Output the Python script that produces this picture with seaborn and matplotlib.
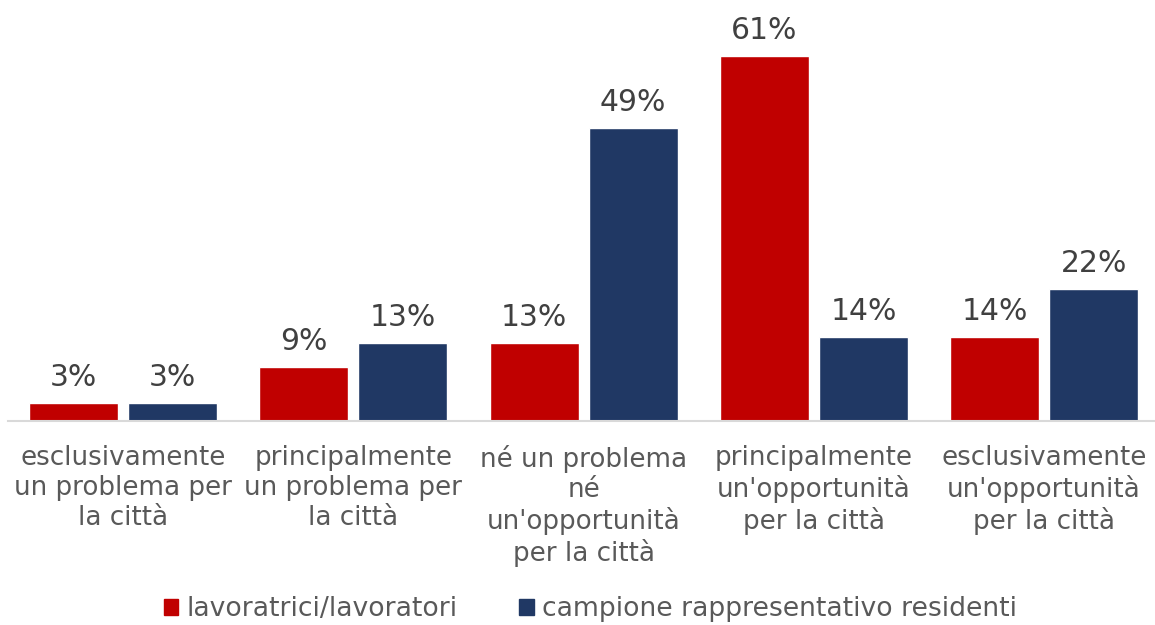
import matplotlib
matplotlib.use("Agg")
import matplotlib.pyplot as plt
import seaborn as sns
import pandas as pd

categories = [
    "esclusivamente\nun problema per\nla città",
    "principalmente\nun problema per\nla città",
    "né un problema\nné\nun'opportunità\nper la città",
    "principalmente\nun'opportunità\nper la città",
    "esclusivamente\nun'opportunità\nper la città",
]
series_names = ["lavoratrici/lavoratori", "campione rappresentativo residenti"]
lavoratori = [3, 9, 13, 61, 14]
residenti = [3, 13, 49, 14, 22]
colors = ["#C00000", "#203864"]

df = pd.DataFrame({
    "categoria": categories * 2,
    "gruppo": [series_names[0]] * len(categories) + [series_names[1]] * len(categories),
    "valore": lavoratori + residenti,
})

sns.set_theme(style="white")
plt.rcParams["font.family"] = ["DejaVu Sans"]

W, H = 1155, 625
fig = plt.figure(figsize=(W / 100, H / 100), dpi=100)
ax = fig.add_axes([8 / W, 204 / H, 1147 / W, 419 / H])

sns.barplot(data=df, x="categoria", y="valore", hue="gruppo",
            palette=colors, width=0.86, gap=0.1, ax=ax,
            saturation=1, legend=False)

ax.set_xlim(-0.5, -0.5 + 1147 / 230.25)
ax.set_ylim(0, 70)
ax.set_xlabel("")
ax.set_ylabel("")
ax.set_yticks([])
for side in ["top", "right", "left"]:
    ax.spines[side].set_visible(False)
ax.spines["bottom"].set_color("#D9D9D9")
ax.spines["bottom"].set_linewidth(1.5)
ax.tick_params(axis="x", length=0, pad=17, labelsize=18.8, labelcolor="#595959")
for lbl in ax.get_xticklabels():
    lbl.set_linespacing(1.2)

for cont in ax.containers:
    ax.bar_label(cont, labels=[f"{v:.0f}%" for v in cont.datavalues],
                 padding=8, fontsize=21.5, color="#404040")

handles = [plt.Rectangle((0, 0), 1, 1, color=c) for c in colors]
fig.legend(handles, series_names, loc="center", bbox_to_anchor=(0.511, 1 - 609 / H),
           ncol=2, frameon=False, fontsize=19.2, handlelength=0.55, handleheight=0.55,
           handletextpad=0.3, columnspacing=2.3, labelcolor="#595959")

fig.savefig("out.png", dpi=100)
